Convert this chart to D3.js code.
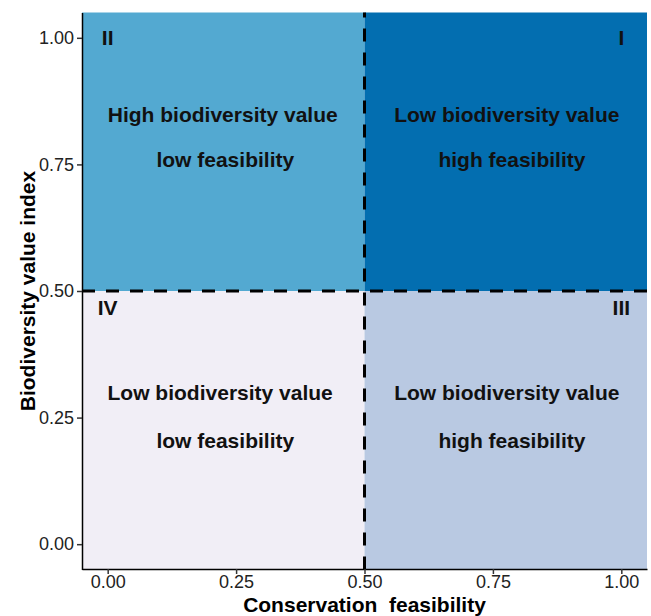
<!DOCTYPE html>
<html>
<head>
<meta charset="utf-8">
<script src="https://cdn.jsdelivr.net/npm/d3@7"></script>
<style>
  body { margin: 0; background: #fff; }
  svg { font-family: "Liberation Sans", Arial, sans-serif; }
</style>
</head>
<body>
<svg id="chart" width="651" height="616"></svg>
<script>
// quadrant data
const quadrants = [
  { id: 'II',  x0: -0.05, x1: 0.5,  y0: 0.5,   y1: 1.05, fill: '#53a9d1' },
  { id: 'I',   x0: 0.5,   x1: 1.05, y0: 0.5,   y1: 1.05, fill: '#036eb0' },
  { id: 'IV',  x0: -0.05, x1: 0.5,  y0: -0.05, y1: 0.5,  fill: '#f1eef6' },
  { id: 'III', x0: 0.5,   x1: 1.05, y0: -0.05, y1: 0.5,  fill: '#b9c9e2' }
]
const numerals = [
  { label: 'II',  x: 0.0, y: 1.0 },
  { label: 'I',   x: 1.0, y: 1.0 },
  { label: 'IV',  x: 0.0, y: 0.467 },
  { label: 'III', x: 1.0, y: 0.467 }
]
const labels = [
  { text: 'High biodiversity value', x: 0.224, y: 0.834 },
  { text: 'low feasibility',         x: 0.229, y: 0.745 },
  { text: 'Low biodiversity value',  x: 0.777, y: 0.834 },
  { text: 'high feasibility',        x: 0.787, y: 0.745 },
  { text: 'Low biodiversity value',  x: 0.219, y: 0.284 },
  { text: 'low feasibility',         x: 0.229, y: 0.190 },
  { text: 'Low biodiversity value',  x: 0.777, y: 0.284 },
  { text: 'high feasibility',        x: 0.787, y: 0.190 }
]
const tickValues = [0, 0.25, 0.5, 0.75, 1]
const cutoff = 0.5

const svg = d3.select('#chart')

const x = d3.scaleLinear().domain([-0.05, 1.05]).range([82, 647])
const y = d3.scaleLinear().domain([-0.05, 1.05]).range([569.5, 12.5])

// Quadrant rectangles
svg.append('g')
  .selectAll('rect')
  .data(quadrants)
  .join('rect')
  .attr('x', d => x(d.x0))
  .attr('y', d => y(d.y1))
  .attr('width', d => x(d.x1) - x(d.x0))
  .attr('height', d => y(d.y0) - y(d.y1))
  .attr('fill', d => d.fill)

// Dashed lines
svg.append('line')
  .attr('x1', x(cutoff)).attr('x2', x(cutoff))
  .attr('y1', y(-0.05)).attr('y2', y(1.05))
  .attr('stroke', 'black').attr('stroke-width', 3)
  .attr('stroke-dasharray', '13,11')
svg.append('line')
  .attr('x1', x(-0.05)).attr('x2', x(1.05))
  .attr('y1', y(cutoff)).attr('y2', y(cutoff))
  .attr('stroke', 'black').attr('stroke-width', 3)
  .attr('stroke-dasharray', '13,11')

// Roman numerals
svg.append('g')
  .selectAll('text')
  .data(numerals)
  .join('text')
  .attr('x', d => x(d.x))
  .attr('y', d => y(d.y))
  .attr('text-anchor', 'middle')
  .attr('dominant-baseline', 'central')
  .attr('font-size', '21px')
  .attr('font-weight', 'bold')
  .attr('fill', '#111')
  .text(d => d.label)

// Quadrant descriptions (y = baseline)
svg.append('g')
  .selectAll('text')
  .data(labels)
  .join('text')
  .attr('x', d => x(d.x))
  .attr('y', d => y(d.y))
  .attr('text-anchor', 'middle')
  .attr('font-size', '21px')
  .attr('font-weight', 'bold')
  .attr('fill', '#111')
  .text(d => d.text)

// Axes
const xAxis = svg.append('g')
  .attr('transform', 'translate(0,' + 569 + ')')
  .call(d3.axisBottom(x).tickValues(tickValues).tickFormat(d3.format('.2f')).tickSize(5).tickSizeOuter(0))
const yAxis = svg.append('g')
  .attr('transform', 'translate(' + 82 + ',0)')
  .call(d3.axisLeft(y).tickValues(tickValues).tickFormat(d3.format('.2f')).tickSize(5).tickSizeOuter(0))

for (const ax of [xAxis, yAxis]) {
  ax.attr('font-size', null)
  ax.select('.domain').attr('stroke', 'black').attr('stroke-width', 1.5)
  ax.selectAll('.tick line').attr('stroke', '#333').attr('stroke-width', 1.5)
  ax.selectAll('.tick text')
    .style('font-size', '18px')
    .attr('font-family', '"Liberation Sans", Arial, sans-serif')
    .attr('fill', '#222')
}
xAxis.selectAll('.tick text').attr('dy', '0.62em')

// Axis titles
svg.append('text')
  .attr('x', x(0.5))
  .attr('y', 612)
  .attr('text-anchor', 'middle')
  .attr('font-size', '21px')
  .attr('font-weight', 'bold')
  .attr('fill', 'black')
  .attr('xml:space', 'preserve')
  .style('white-space', 'pre')
  .text('Conservation  feasibility')

svg.append('text')
  .attr('transform', 'translate(' + 35 + ',' + y(0.5) + ') rotate(-90)')
  .attr('text-anchor', 'middle')
  .attr('font-size', '21px')
  .attr('font-weight', 'bold')
  .attr('fill', 'black')
  .text('Biodiversity value index')
</script>
</body>
</html>
